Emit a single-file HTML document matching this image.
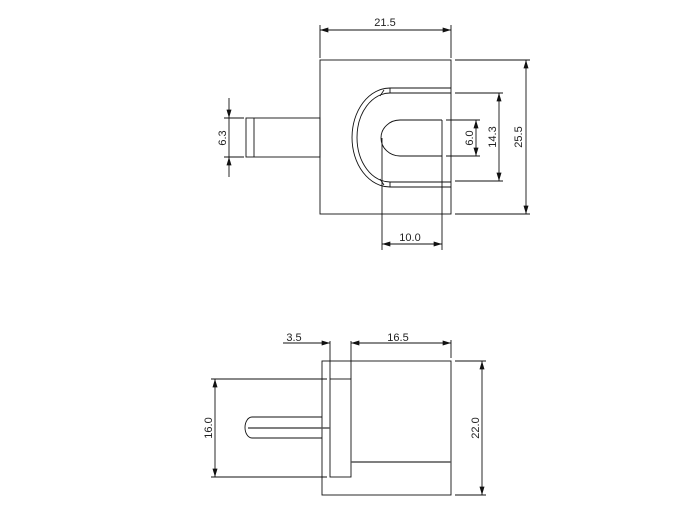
<!DOCTYPE html>
<html><head><style>
html,body{margin:0;padding:0;background:#fff;}
svg{display:block;}
text{font-family:"Liberation Sans",sans-serif;font-size:11px;fill:#222;}
</style></head><body>
<svg width="691" height="519" viewBox="0 0 691 519" xmlns="http://www.w3.org/2000/svg">
<defs>
<marker id="a" viewBox="0 0 10 6" refX="10" refY="3" markerWidth="9" markerHeight="5" orient="auto-start-reverse" markerUnits="userSpaceOnUse"><path d="M0,0 L10,3 L0,6 z" fill="#111"/></marker>
</defs>
<g stroke="#111" stroke-width="0.9" fill="none">
<rect x="320" y="60" width="131" height="154"/>
<rect x="246" y="118" width="74" height="39"/>
<line x1="254" y1="118" x2="254" y2="157"/>
<path d="M451,88 L390,88 A38,49.5 0 0 0 390,187 L451,187"/>
<path d="M451,93 L390,93 A33,44.5 0 0 0 390,182 L451,182"/>
<line x1="390" y1="88" x2="390" y2="93"/><line x1="390" y1="182" x2="390" y2="187"/>
<line x1="380" y1="96" x2="384" y2="90"/><line x1="380" y1="179" x2="384" y2="185"/>
<path d="M442,120 L400,120 A19,18 0 0 0 400,156 L442,156"/>
<line x1="442" y1="120" x2="442" y2="250"/>
<line x1="382" y1="138" x2="382" y2="250"/>
<line x1="320" y1="25" x2="320" y2="58"/><line x1="451" y1="25" x2="451" y2="58"/>
<line x1="320" y1="30" x2="451" y2="30" marker-start="url(#a)" marker-end="url(#a)"/>
<line x1="224" y1="118" x2="244" y2="118"/><line x1="224" y1="157" x2="244" y2="157"/>
<line x1="229" y1="98" x2="229" y2="118" marker-end="url(#a)"/>
<line x1="229" y1="177" x2="229" y2="157" marker-end="url(#a)"/>
<line x1="229" y1="118" x2="229" y2="157"/>
<line x1="455" y1="60" x2="530" y2="60"/><line x1="455" y1="214" x2="530" y2="214"/>
<line x1="526" y1="60" x2="526" y2="214" marker-start="url(#a)" marker-end="url(#a)"/>
<line x1="455" y1="93" x2="503" y2="93"/><line x1="455" y1="181" x2="503" y2="181"/>
<line x1="499" y1="93" x2="499" y2="181" marker-start="url(#a)" marker-end="url(#a)"/>
<line x1="446" y1="120" x2="480" y2="120"/><line x1="446" y1="156" x2="480" y2="156"/>
<line x1="476" y1="120" x2="476" y2="156" marker-start="url(#a)" marker-end="url(#a)"/>
<line x1="382" y1="244" x2="442" y2="244" marker-start="url(#a)" marker-end="url(#a)"/>
<rect x="322" y="361" width="129" height="134"/>
<rect x="330" y="379" width="21" height="98"/>
<path d="M322,417 L252,417 A7,10.5 0 0 0 252,438 L322,438"/>
<line x1="248" y1="428" x2="330" y2="428" stroke-width="1.6" stroke="#555"/>
<line x1="351" y1="462" x2="451" y2="462" stroke-width="1.6" stroke="#555"/>
<line x1="330" y1="341" x2="330" y2="379"/><line x1="351" y1="341" x2="351" y2="379"/>
<line x1="451" y1="340" x2="451" y2="358"/>
<line x1="283" y1="343" x2="330" y2="343" marker-end="url(#a)"/>
<line x1="351" y1="343" x2="451" y2="343" marker-start="url(#a)" marker-end="url(#a)"/>
<line x1="211" y1="379" x2="327" y2="379"/><line x1="211" y1="477" x2="327" y2="477"/>
<line x1="215" y1="379" x2="215" y2="477" marker-start="url(#a)" marker-end="url(#a)"/>
<line x1="455" y1="361" x2="486" y2="361"/><line x1="455" y1="495" x2="486" y2="495"/>
<line x1="482" y1="361" x2="482" y2="495" marker-start="url(#a)" marker-end="url(#a)"/>
</g>
<text x="385" y="26" text-anchor="middle">21.5</text>
<text x="410" y="241" text-anchor="middle">10.0</text>
<text transform="translate(226,138) rotate(-90)" text-anchor="middle">6.3</text>
<text transform="translate(522,137) rotate(-90)" text-anchor="middle">25.5</text>
<text transform="translate(496,137) rotate(-90)" text-anchor="middle">14.3</text>
<text transform="translate(473,138) rotate(-90)" text-anchor="middle">6.0</text>
<text x="294" y="341" text-anchor="middle">3.5</text>
<text x="398" y="341" text-anchor="middle">16.5</text>
<text transform="translate(212,428) rotate(-90)" text-anchor="middle">16.0</text>
<text transform="translate(479,428) rotate(-90)" text-anchor="middle">22.0</text>
</svg>
</body></html>
